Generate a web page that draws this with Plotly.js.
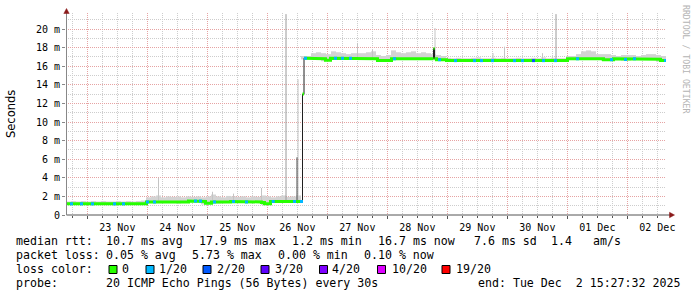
<!DOCTYPE html>
<html><head><meta charset="utf-8">
<script src="https://cdn.plot.ly/plotly-3.0.1.min.js"></script>
<style>html,body{margin:0;padding:0;background:#fff}#chart{width:697px;height:297px}</style>
</head><body><div id="chart"></div>
<script>
// ---- time window: 10 days ending Tue Dec 2 15:27:32 2025 (hours since window start) ----
const startTime = Date.UTC(2025, 10, 22, 15, 27, 32);
const spanHours = 240;

// ---- median RTT (ms), step series: value holds from hour until next hour ----
const medianHours = [0, 32.2, 44, 46, 49, 54.6, 55.8, 58.2, 60.2, 62.6, 65.8, 70.2, 78.2, 79.4, 81.8,
  94.6, 95.2, 102.2, 103.8, 105.8, 120.2, 124.6, 130.2, 132.2, 138.2, 147.0, 147.4, 148.2, 152.2,
  200.6, 215, 219, 223, 226.2, 236.2, 237.8];
const medianMs = [1.2, 1.4, 1.35, 1.4, 1.5, 1.45, 1.25, 1.4, 1.35, 1.4, 1.45, 1.4, 1.35, 1.2, 1.45,
  13.0, 16.85, 16.8, 16.65, 16.85, 16.8, 16.6, 16.8, 16.85, 16.8, 17.9, 16.8, 16.7, 16.6,
  16.8, 16.7, 16.8, 16.72, 16.8, 16.75, 16.6];

// ---- smoke (ping spread) top per 2-hour bin (ms) ----
const smokeTopMs = [
  1.45,1.5,1.45,1.5,1.45,1.5,1.45,1.5,1.45,1.45,1.5,1.45,1.5,1.45,1.5,1.55,
  1.9,2.0,2.1,1.9,2.0,1.95,2.0,1.9,2.0,1.95,2.0,1.9,2.0,2.2,2.0,1.9,2.05,2.0,1.95,2.0,1.9,2.0,1.95,2.1,2.0,1.9,2.0,2.1,1.95,2.0,2.1,
  17.1,
  17.1,17.4,17.5,17.4,17.3,17.6,17.5,17.4,17.3,17.4,17.4,17.4,17.5,17.6,17.2,17.1,17.2,17.7,17.5,17.4,17.5,17.6,17.4,17.5,17.4,17.3,17.2,17.1,
  16.9,16.85,16.9,16.85,16.85,16.9,16.95,16.85,16.85,16.9,16.85,16.9,16.85,16.85,16.9,16.85,16.85,16.9,16.85,16.95,16.85,16.9,16.85,16.85,
  17.1,17.1,17.3,17.6,17.7,17.6,17.3,17.3,17.3,17.2,17.1,17.2,17.2,17.2,17.1,17.2,17.3,17.3,17.2,17.1];

// ---- isolated smoke spikes ----
const spikeHours = [37.0, 58.6, 67.0, 78.2, 92.8, 116.6, 122.6, 147.6, 170.8, 175.4, 190.6];
const spikeTopMs = [4.0, 2.5, 2.3, 2.9, 14.6, 18.5, 17.8, 20.1, 17.4, 18.1, 17.4];
const tallSpikeHours = [88.0, 196.0];
const tallSpikeTopMs = [21.6, 21.6];
const darkSpikeHours = [92.4];
const darkSpikeTopMs = [6.2];

// ---- packet loss events (hour, loss-color index) ----
const lossHours = [2.2, 6.2, 10.6, 19.4, 23.0, 32.6, 35.4, 51.8, 53.8, 59.4, 67.0, 72.2, 82.9, 91.4, 94.2,
  95.8, 107.8, 110.6, 113.8, 131.4, 149.4, 155.8, 163.4, 166.2, 170.6, 179.4, 182.6, 187.0, 191.0,
  195.8, 204.6, 218.2, 223.8, 227.4, 239.8];
const lossLevel = [1,1,1,1,1,1,1,1,1,1,1,1,1,1,1,1,1,1,1,1,1,1,1,1,1,1,1,2,1,1,1,1,1,1,1];
const lossLabels = ['0', '1/20', '2/20', '3/20', '4/20', '10/20', '19/20'];
const lossColors = ['#26ff00', '#00b8ff', '#0059ff', '#5e00ff', '#7e00ff', '#dd00ff', '#ff0000'];

// ---- axis ticks ----
const yTickVals = [0, 2, 4, 6, 8, 10, 12, 14, 16, 18, 20];
const yTickText = ['0', '2 m', '4 m', '6 m', '8 m', '10 m', '12 m', '14 m', '16 m', '18 m', '20 m'];

// ---- legend text ----
const rttItems = ['median rtt:', '10.7 ms avg', '17.9 ms max', '1.2 ms min', '16.7 ms now', '7.6 ms sd', '1.4', 'am/s'];
const lossItems = ['packet loss:', '0.05 % avg', '5.73 % max', '0.00 % min', '0.10 % now'];
const probeItems = ['probe:', '20 ICMP Echo Pings (56 Bytes) every 30s', 'end: Tue Dec\u00a0\u00a02 15:27:32 2025'];

// ================= drawing =================
const H = 3600000;
const t = h => startTime + h * H;
function medianAt(h) {
  let v = medianMs[0];
  for (let i = 0; i < medianHours.length; i++) { if (medianHours[i] <= h) v = medianMs[i]; else break; }
  return v;
}

// smoke bars
const sx = [], sb = [], sy = [];
smokeTopMs.forEach((top, i) => {
  const base = medianAt(2 * i + 1.9) - 0.12;
  sx.push(t(2 * i + 1)); sb.push(base); sy.push(Math.max(0, top - base));
});
function spikeTrace(hs, tops, color) {
  const x = [], y = [];
  hs.forEach((h, i) => { x.push(t(h), t(h), null); y.push(medianAt(h), tops[i], null); });
  return {type: 'scatter', mode: 'lines', x, y, line: {color, width: 1}, hoverinfo: 'skip'};
}
// median line & band
const lx = [], ly = [], bx = [], by = [];
medianHours.forEach((h0, i) => {
  const h1 = i + 1 < medianHours.length ? medianHours[i + 1] : spanHours;
  const v = medianMs[i];
  lx.push(t(h0), t(h1)); ly.push(v, v);
  if (i > 0 && Math.abs(v - medianMs[i - 1]) > 1) { bx.push(null); by.push(null); }
  bx.push(t(h0), t(h1)); by.push(v, v);
});

const traces = [
  {type: 'bar', x: sx, base: sb, y: sy, width: 2 * H, marker: {color: '#d3d3d3', line: {width: 0}}, hoverinfo: 'skip'},
  spikeTrace(spikeHours, spikeTopMs, '#c4c4c4'),
  spikeTrace(tallSpikeHours, tallSpikeTopMs, '#9a9a9a'),
  spikeTrace(darkSpikeHours, darkSpikeTopMs, '#4a4a4a'),
  {type: 'scatter', mode: 'lines', x: lx, y: ly, line: {color: '#202020', width: 1}, hoverinfo: 'skip'},
  {type: 'scatter', mode: 'lines', x: bx, y: by, line: {color: lossColors[0], width: 3}, hoverinfo: 'skip'},
  {type: 'scatter', mode: 'markers', x: lossHours.map(t), y: lossHours.map(medianAt),
   marker: {symbol: 'square', size: 3, color: lossLevel.map(l => lossColors[l]), line: {width: 0}}, hoverinfo: 'skip'}
];

// pixel -> paper helpers
const PL = 66, PT = 13, PW = 600, PH = 202;
const px = v => (v - PL) / PW;
const py = v => (PT + PH - v) / PH;
const mono = {family: 'DejaVu Sans Mono', size: 11.6, color: '#000'};
const ann = [];
function txt(x, y, s, extra) {
  ann.push(Object.assign({xref: 'paper', yref: 'paper', x: px(x), y: py(y), text: s, showarrow: false,
    xanchor: 'left', yanchor: 'middle', borderpad: 0, borderwidth: 0, font: mono}, extra || {}));
}
const rttX = [15.5, 106.3, 199.3, 292.3, 378.3, 474, 550.7, 592.8];
rttItems.forEach((s, i) => txt(rttX[i], 241, s));
const lossX = [15.5, 106.3, 192.3, 278.3, 364];
lossItems.forEach((s, i) => txt(lossX[i], 255, s));
txt(15.5, 269, 'loss color:');
const sqX = [109, 146, 203, 261, 319.5, 377.5, 442];
const labX = [122, 159, 216.7, 274.7, 332, 392.3, 455.7];
lossLabels.forEach((s, i) => txt(labX[i], 269, s));
const probeX = [15.5, 106.3, 478];
probeItems.forEach((s, i) => txt(probeX[i], 283, s));
txt(11, 114, 'Seconds', {xanchor: 'center', textangle: -90, font: {family: 'DejaVu Sans', size: 11.5, color: '#000'}});
txt(686, 59, 'RRDTOOL / TOBI OETIKER', {xanchor: 'center', textangle: 90, font: {family: 'DejaVu Sans Mono', size: 8.2, color: '#b4b4b4'}});

const shapes = [];
sqX.forEach((x, i) => shapes.push({type: 'rect', xref: 'paper', yref: 'paper', x0: px(x), x1: px(x + 8), y0: py(273.5), y1: py(265.5),
  fillcolor: lossColors[i], line: {color: '#000', width: 1}}));
// axes + arrows
shapes.push({type: 'line', xref: 'paper', yref: 'paper', x0: px(66.5), x1: px(670), y0: py(215), y1: py(215), line: {color: '#555', width: 1}});
shapes.push({type: 'line', xref: 'paper', yref: 'paper', x0: px(66.5), x1: px(66.5), y0: py(215), y1: py(11), line: {color: '#888', width: 1}});
shapes.push({type: 'path', xref: 'paper', yref: 'paper', fillcolor: '#8b1a1a', line: {color: '#8b1a1a', width: 0.5},
  path: `M ${px(66.5)} ${py(8.5)} L ${px(63.8)} ${py(13.5)} L ${px(69.2)} ${py(13.5)} Z`});
shapes.push({type: 'path', xref: 'paper', yref: 'paper', fillcolor: '#8b1a1a', line: {color: '#8b1a1a', width: 0.5},
  path: `M ${px(674.5)} ${py(215)} L ${px(669.5)} ${py(212.3)} L ${px(669.5)} ${py(217.7)} Z`});

const grid = {major: '#e6a3a3', minor: '#cdcdcd', dash: '1px,1px'};
const tickFont = {family: 'DejaVu Sans Mono', size: 10, color: '#000'};
const layout = {
  width: 697, height: 297, margin: {l: PL, r: 697 - PL - PW, t: PT, b: 297 - PT - PH, pad: 0},
  paper_bgcolor: '#fff', plot_bgcolor: '#fff', showlegend: false, barmode: 'overlay',
  xaxis: {type: 'date', range: [t(0), t(spanHours)], tick0: '2025-11-23', dtick: 86400000, tickformat: '%d %b',
    ticklabelmode: 'period', showgrid: true, gridcolor: grid.major, griddash: grid.dash, gridwidth: 1,
    ticks: 'outside', ticklen: 3, tickcolor: '#555', tickfont: tickFont, zeroline: false, showline: false, fixedrange: true,
    minor: {tick0: '2025-11-23', dtick: 6 * H, showgrid: true, gridcolor: grid.minor, griddash: grid.dash, ticks: 'outside', ticklen: 2, tickcolor: '#555'}},
  yaxis: {range: [0, 21.72], tickmode: 'array', tickvals: yTickVals, ticktext: yTickText, showgrid: true, gridcolor: grid.major,
    griddash: grid.dash, gridwidth: 1, ticks: 'outside', ticklen: 3, tickcolor: '#888', tickfont: tickFont,
    zeroline: false, showline: false, fixedrange: true,
    minor: {tickmode: 'linear', tick0: 0, dtick: 1, showgrid: true, gridcolor: grid.minor, griddash: grid.dash}},
  annotations: ann, shapes: shapes
};
Plotly.newPlot('chart', traces, layout, {staticPlot: true, displayModeBar: false});
</script></body></html>
